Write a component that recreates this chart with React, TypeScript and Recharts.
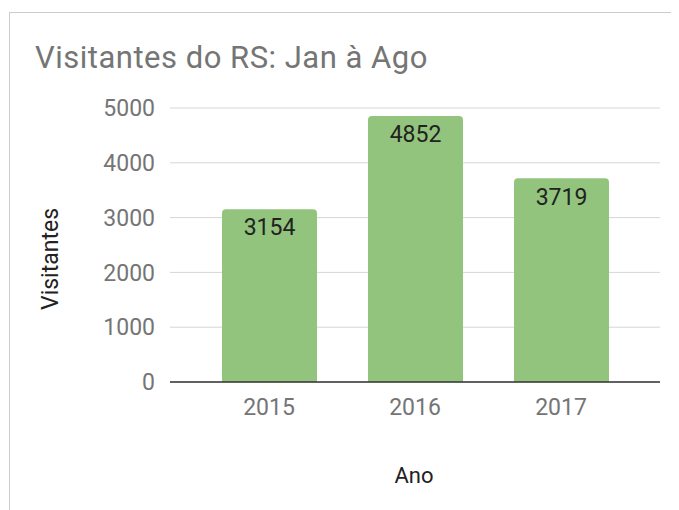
import { BarChart, Bar, XAxis, YAxis, CartesianGrid, LabelList } from "recharts";

const YEARS = ["2015", "2016", "2017"];
const VISITORS = [3154, 4852, 3719];
const Y_TICKS = [0, 1000, 2000, 3000, 4000, 5000];

const GREEN = "#93C47D";
const GREY_TEXT = "#757575";
const DARK_TEXT = "#222222";
const FONT = "Roboto, sans-serif";

const chartData = YEARS.map((year, i) => ({ year, visitors: VISITORS[i] }));

export default function App() {
  return (
    <div style={{ position: "relative", width: 671, height: 502, overflow: "hidden", fontFamily: FONT }}>
      {/* light frame around the chart card */}
      <div
        style={{
          position: "absolute",
          left: 1,
          top: 4,
          width: 700,
          height: 600,
          borderLeft: "1px solid #cccccc",
          borderTop: "1px solid #cccccc",
          boxSizing: "border-box",
        }}
      />
      <div style={{ position: "absolute", left: 0, top: 0 }}>
        <BarChart width={671} height={502} data={chartData} margin={{ top: 100, right: 19, left: 0, bottom: 88 }}>
          <CartesianGrid horizontal vertical={false} stroke="#d6d6d6" />
          <XAxis
            dataKey="year"
            height={40}
            padding={{ left: 26, right: 26 }}
            tickLine={false}
            tickSize={0}
            tickMargin={17}
            axisLine={{ stroke: "#333333", strokeWidth: 1.5 }}
            tick={{ fontSize: 23, fill: GREY_TEXT, fontFamily: FONT }}
          />
          <YAxis
            width={162}
            domain={[0, 5000]}
            ticks={Y_TICKS}
            axisLine={false}
            tickLine={false}
            tickSize={0}
            tickMargin={15}
            tick={{ fontSize: 23, fill: GREY_TEXT, fontFamily: FONT }}
          />
          <Bar dataKey="visitors" fill={GREEN} barSize={95} radius={[4, 4, 0, 0]} isAnimationActive={false}>
            <LabelList
              dataKey="visitors"
              position="insideTop"
              offset={10}
              style={{ fontSize: 23, fill: DARK_TEXT, fontFamily: FONT }}
            />
          </Bar>
        </BarChart>
      </div>
      <svg width={671} height={502} style={{ position: "absolute", left: 0, top: 0, pointerEvents: "none" }}>
        <text x={27} y={60} fontSize={31} fill={GREY_TEXT} fontFamily={FONT} letterSpacing={0.5}>
          Visitantes do RS: Jan à Ago
        </text>
        <text
          x={42}
          y={251}
          fontSize={23}
          fill={DARK_TEXT}
          fontFamily={FONT}
          textAnchor="middle"
          dominantBaseline="central"
          transform="rotate(-90 42 251)"
        >
          Visitantes
        </text>
        <text x={406} y={467} fontSize={22} fill={DARK_TEXT} fontFamily={FONT} textAnchor="middle" dominantBaseline="central">
          Ano
        </text>
      </svg>
    </div>
  );
}
